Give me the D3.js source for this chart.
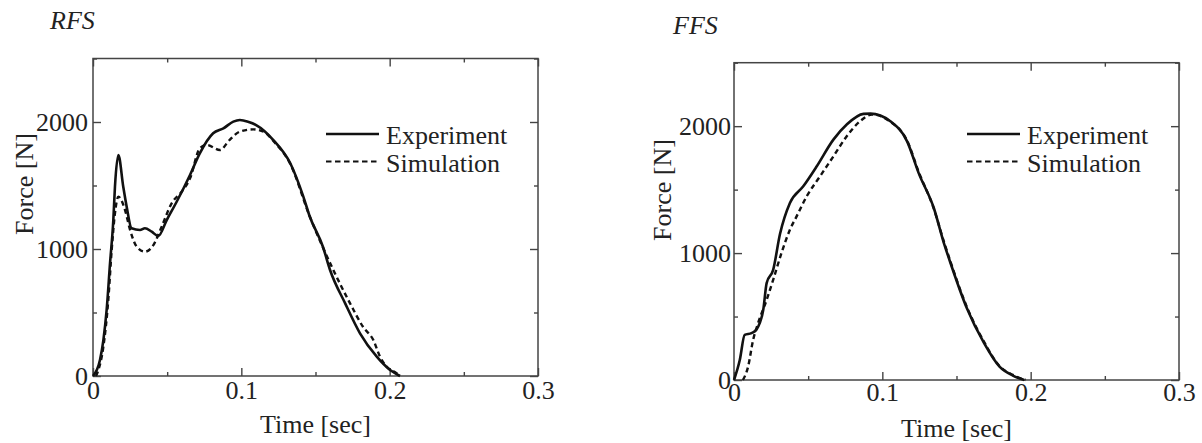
<!DOCTYPE html>
<html>
<head>
<meta charset="utf-8">
<script src="https://cdn.jsdelivr.net/npm/d3@7"></script>
<style>
  body { margin: 0; background: #fff; }
  svg text { font-family: 'Liberation Serif', 'Times New Roman', serif; fill: #222; }
</style>
</head>
<body>
<div id="chart"></div>
<script>
// values
var rfsExpTime = [0, 0.0047, 0.007, 0.0092, 0.0115, 0.0137, 0.0148, 0.0171, 0.0204, 0.0227, 0.026, 0.0317, 0.035, 0.0396, 0.044, 0.0497, 0.0564, 0.0654, 0.072, 0.081, 0.0879, 0.0946, 0.099, 0.105, 0.110, 0.1216, 0.133, 0.1418, 0.146, 0.155, 0.1598, 0.170, 0.180, 0.1913, 0.2003, 0.207];
var rfsExpForce = [0, 126, 283, 520, 890, 1228, 1490, 1740, 1490, 1333, 1163, 1150, 1163, 1136, 1102, 1228, 1372, 1583, 1753, 1911, 1950, 2003, 2016, 2000, 1976, 1858, 1675, 1412, 1260, 1018, 835, 572, 336, 152, 47, 0];

var rfsSimTime = [0.002, 0.0036, 0.007, 0.0103, 0.0126, 0.0148, 0.0171, 0.0216, 0.025, 0.0295, 0.035, 0.0407, 0.0463, 0.053, 0.0598, 0.0654, 0.072, 0.0767, 0.0856, 0.092, 0.099, 0.108, 0.115, 0.1216, 0.133, 0.146, 0.162, 0.1733, 0.182, 0.189, 0.1935, 0.198, 0.2048, 0.207];
var rfsSimForce = [0, 47, 231, 598, 992, 1281, 1412, 1307, 1150, 1018, 979, 1031, 1176, 1359, 1451, 1556, 1792, 1819, 1780, 1858, 1924, 1942, 1924, 1850, 1670, 1260, 835, 572, 388, 283, 152, 73, 21, 0];

var ffsExpTime = [0, 0.0039, 0.0072, 0.0118, 0.015, 0.0197, 0.022, 0.0264, 0.031, 0.0377, 0.0467, 0.0558, 0.067, 0.076, 0.0873, 0.092, 0.1054, 0.1167, 0.1245, 0.1347, 0.1415, 0.146, 0.157, 0.1686, 0.179, 0.188, 0.1957];
var ffsExpForce = [0, 158, 355, 369, 395, 552, 763, 868, 1150, 1395, 1526, 1684, 1894, 2013, 2097, 2099, 2039, 1880, 1630, 1355, 1079, 920, 565, 290, 105, 35, 0];

var ffsSimTime = [0.006, 0.0095, 0.0129, 0.0162, 0.022, 0.0264, 0.032, 0.0377, 0.0422, 0.049, 0.058, 0.067, 0.076, 0.085, 0.093, 0.1054, 0.1167, 0.1245, 0.1347, 0.1415, 0.146, 0.157, 0.1686, 0.179, 0.188, 0.1965];
var ffsSimForce = [0, 105, 316, 447, 631, 789, 1000, 1184, 1289, 1447, 1605, 1762, 1920, 2039, 2092, 2035, 1885, 1640, 1350, 1090, 930, 575, 300, 110, 40, 0];

var xMajorTicks = [0, 0.1, 0.2, 0.3];
var xMinorTicks = [0.05, 0.15, 0.25];
var yMajorTicks = [0, 1000, 2000];
var yMinorTicks = [500, 1500, 2500];
var seriesNames = ['Experiment', 'Simulation'];

var width = 1202, height = 443;
var serif = "'Liberation Serif', 'Times New Roman', serif";

var svg = d3.select('#chart')
            .append('svg')
            .attr('width', width)
            .attr('height', height);

function zip(ts, fs) {
    return ts.map(function(t, i) { return [t, fs[i]]; });
}

function drawPanel(p) {
    var x = d3.scaleLinear().domain([0, 0.3]).range([p.x0, p.x1]);
    var y = d3.scaleLinear().domain([0, 2500]).range([p.y1, p.y0]);
    var g = svg.append('g');

    // frame
    g.append('rect')
        .attr('x', p.x0).attr('y', p.y0)
        .attr('width', p.x1 - p.x0).attr('height', p.y1 - p.y0)
        .style('fill', 'none')
        .style('stroke', '#444')
        .style('stroke-width', 1.5);

    function tickAxis(axis, tr, size, ticks, labels) {
        var a = g.append('g')
            .attr('transform', tr)
            .call(axis.tickValues(ticks).tickSize(-size).tickPadding(labels ? p.pad : 0)
                .tickFormat(labels ? function(d) { return d; } : ''));
        a.attr('font-family', null).attr('font-size', null);
        a.select('.domain').remove();
        a.selectAll('line').style('stroke', '#444').style('stroke-width', 1.4);
        a.selectAll('text')
            .style('font-family', serif)
            .style('font-size', '26px')
            .attr('fill', '#222');
        return a;
    }

    tickAxis(d3.axisBottom(x), 'translate(0,' + p.y1 + ')', 8, xMajorTicks, true);
    tickAxis(d3.axisBottom(x), 'translate(0,' + p.y1 + ')', 4, xMinorTicks, false);
    tickAxis(d3.axisTop(x), 'translate(0,' + p.y0 + ')', 8, xMajorTicks, false);
    tickAxis(d3.axisTop(x), 'translate(0,' + p.y0 + ')', 4, xMinorTicks, false);
    tickAxis(d3.axisLeft(y), 'translate(' + p.x0 + ',0)', 8, yMajorTicks, true);
    tickAxis(d3.axisLeft(y), 'translate(' + p.x0 + ',0)', 4, yMinorTicks, false);
    tickAxis(d3.axisRight(y), 'translate(' + p.x1 + ',0)', 8, yMajorTicks, false);
    tickAxis(d3.axisRight(y), 'translate(' + p.x1 + ',0)', 4, yMinorTicks, false);

    var line = d3.line()
        .x(function(d) { return x(d[0]); })
        .y(function(d) { return y(d[1]); })
        .curve(d3.curveMonotoneX);

    g.append('path')
        .attr('d', line(zip(p.simTime, p.simForce)))
        .style('fill', 'none')
        .style('stroke', '#111')
        .style('stroke-width', 2.4)
        .style('stroke-dasharray', '5,3.5');

    g.append('path')
        .attr('d', line(zip(p.expTime, p.expForce)))
        .style('fill', 'none')
        .style('stroke', '#111')
        .style('stroke-width', 2.6);

    // titles and axis labels
    g.append('text')
        .attr('x', p.titleX).attr('y', p.titleY)
        .style('font-size', '26px')
        .style('font-style', 'italic')
        .text(p.title);

    g.append('text')
        .attr('x', (p.x0 + p.x1) / 2).attr('y', p.xLabelY)
        .attr('text-anchor', 'middle')
        .style('font-size', '26px')
        .text('Time [sec]');

    g.append('text')
        .attr('transform', 'translate(' + p.yLabelX + ',' + p.yLabelY + ') rotate(-90)')
        .attr('text-anchor', 'middle')
        .style('font-size', '26px')
        .text('Force [N]');

    // legend
    var leg = g.append('g').attr('transform', 'translate(' + p.legendX + ',' + p.legendY + ')');
    seriesNames.forEach(function(name, i) {
        leg.append('line')
            .attr('x1', 0).attr('x2', 53)
            .attr('y1', i * 27.5).attr('y2', i * 27.5)
            .style('stroke', '#111')
            .style('stroke-width', i == 0 ? 2.6 : 2.2)
            .style('stroke-dasharray', i == 0 ? null : '5.5,3.5');
        leg.append('text')
            .attr('x', 60).attr('y', i * 27.5 + 10)
            .style('font-size', '26px')
            .text(name);
    });
}

drawPanel({
    x0: 93, x1: 538, y0: 58.5, y1: 376, pad: 5,
    title: 'RFS', titleX: 50, titleY: 29,
    yLabelX: 33, yLabelY: 184, xLabelY: 433,
    legendX: 326, legendY: 134,
    expTime: rfsExpTime, expForce: rfsExpForce,
    simTime: rfsSimTime, simForce: rfsSimForce
});

drawPanel({
    x0: 734, x1: 1179, y0: 62.7, y1: 380, pad: 3,
    title: 'FFS', titleX: 673, titleY: 34,
    yLabelX: 671, yLabelY: 190, xLabelY: 437,
    legendX: 967, legendY: 134,
    expTime: ffsExpTime, expForce: ffsExpForce,
    simTime: ffsSimTime, simForce: ffsSimForce
});
</script>
</body>
</html>
